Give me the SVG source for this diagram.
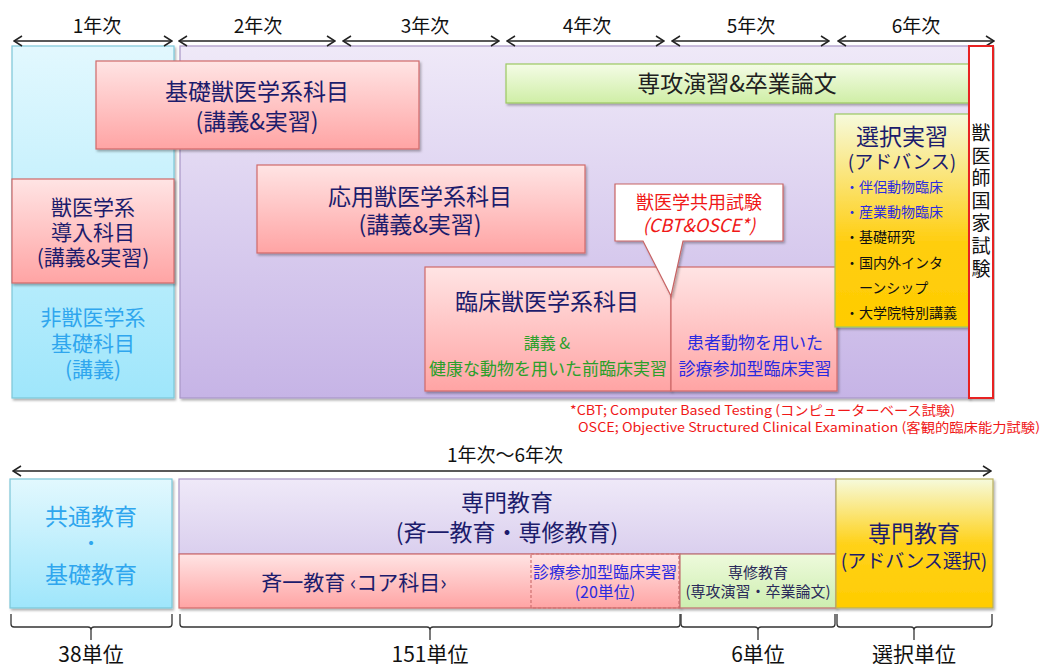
<svg xmlns="http://www.w3.org/2000/svg" width="1043" height="664" viewBox="0 0 1043 664">
<style>
text{font-family:"Noto Sans CJK JP","Noto Sans",sans-serif;}
.c{text-anchor:middle;}
.navy{fill:#1c1c6c;}
.blk{fill:#111;}
.blue{fill:#2a2ae0;}
.sky{fill:#2fa6ee;}
.grn{fill:#2aa02a;}
.red{fill:#f01818;}
.pink{fill:url(#gPink);stroke:#d06a6a;stroke-width:1.2;filter:url(#sh);}
.line{fill:none;stroke:#222;stroke-width:1.5;}
.brace{fill:none;stroke:#333;stroke-width:1.3;}
</style>
<defs>
<linearGradient id="gPink" x1="0" y1="0" x2="0" y2="1"><stop offset="0" stop-color="#ffe4e4"/><stop offset="1" stop-color="#ffa4a4"/></linearGradient>
<linearGradient id="gPurple" x1="0" y1="0" x2="0" y2="1"><stop offset="0" stop-color="#efe9f8"/><stop offset="1" stop-color="#c6b4e6"/></linearGradient>
<linearGradient id="gPurple2" x1="0" y1="0" x2="0" y2="1"><stop offset="0" stop-color="#efe9f8"/><stop offset="1" stop-color="#dacfee"/></linearGradient>
<linearGradient id="gCyan" x1="0" y1="0" x2="0" y2="1"><stop offset="0" stop-color="#e2f8fe"/><stop offset="1" stop-color="#9fe6fb"/></linearGradient>
<linearGradient id="gGreen" x1="0" y1="0" x2="0" y2="1"><stop offset="0" stop-color="#f4fce6"/><stop offset="1" stop-color="#cfeea6"/></linearGradient>
<linearGradient id="gGreen2" x1="0" y1="0" x2="0" y2="1"><stop offset="0" stop-color="#eefadc"/><stop offset="1" stop-color="#cdeeb0"/></linearGradient>
<linearGradient id="gGold" x1="0" y1="0" x2="0" y2="1"><stop offset="0" stop-color="#f6fadc"/><stop offset="0.6" stop-color="#ffce10"/><stop offset="1" stop-color="#ffcc00"/></linearGradient>
<linearGradient id="gGold2" x1="0" y1="0" x2="0" y2="1"><stop offset="0" stop-color="#f6fadc"/><stop offset="0.5" stop-color="#ffd21a"/><stop offset="1" stop-color="#ffcc00"/></linearGradient>
<filter id="sh" x="-5%" y="-5%" width="112%" height="120%"><feDropShadow dx="1.5" dy="2" stdDeviation="1.2" flood-color="#000" flood-opacity="0.3"/></filter>
<marker id="ah" viewBox="-1 -6 10 12" markerWidth="10" markerHeight="12" refX="8" refY="0" orient="auto-start-reverse" markerUnits="userSpaceOnUse"><path d="M0,-5 L8,0 L0,5" fill="none" stroke="#222" stroke-width="1.5"/></marker>
</defs>

<!-- backgrounds -->
<g id="col-year1"><rect x="12" y="46" width="162" height="352" fill="url(#gCyan)" stroke="#7cc6d8" stroke-width="1.2" filter="url(#sh)"/></g>
<g id="area-main"><rect x="180" y="46" width="789" height="352" fill="url(#gPurple)" stroke="#a896c6" stroke-width="1.2" filter="url(#sh)"/></g>

<!-- year labels -->
<g id="year-labels" class="blk" font-size="19">
<text class="c" x="97" y="33">1年次</text>
<text class="c" x="258" y="33">2年次</text>
<text class="c" x="425" y="33">3年次</text>
<text class="c" x="587" y="33">4年次</text>
<text class="c" x="751" y="33">5年次</text>
<text class="c" x="916" y="33">6年次</text>
</g>

<!-- connectors -->
<g id="connectors">
<line class="line" x1="14" y1="41" x2="172" y2="41" marker-start="url(#ah)" marker-end="url(#ah)"/>
<line class="line" x1="179" y1="41" x2="335" y2="41" marker-start="url(#ah)" marker-end="url(#ah)"/>
<line class="line" x1="343" y1="41" x2="499" y2="41" marker-start="url(#ah)" marker-end="url(#ah)"/>
<line class="line" x1="507" y1="41" x2="664" y2="41" marker-start="url(#ah)" marker-end="url(#ah)"/>
<line class="line" x1="672" y1="41" x2="829" y2="41" marker-start="url(#ah)" marker-end="url(#ah)"/>
<line class="line" x1="838" y1="41" x2="994" y2="41" marker-start="url(#ah)" marker-end="url(#ah)"/>
<line class="line" x1="13" y1="471" x2="991" y2="471" marker-start="url(#ah)" marker-end="url(#ah)"/>
<path class="brace" d="M11,614 V624 Q11,627 14,627 H88 Q91,627 91,630 V640 M91,630 Q91,627 94,627 H169 Q172,627 172,624 V614"/>
<path class="brace" d="M180,614 V624 Q180,627 183,627 H427 Q430,627 430,630 V640 M430,630 Q430,627 433,627 H677 Q680,627 680,624 V614"/>
<path class="brace" d="M681,614 V624 Q681,627 684,627 H755 Q758,627 758,630 V640 M758,630 Q758,627 761,627 H832 Q835,627 835,624 V614"/>
<path class="brace" d="M837,614 V624 Q837,627 840,627 H911 Q914,627 914,630 V640 M914,630 Q914,627 917,627 H989 Q992,627 992,624 V614"/>
</g>

<!-- top nodes -->
<g id="kiso-juui">
<rect class="pink" x="96" y="61" width="323" height="88"/>
<text class="c navy" x="257" y="100" font-size="23">基礎獣医学系科目</text>
<text class="c navy" x="257" y="130" font-size="23">(講義&amp;実習)</text>
</g>

<g id="senko">
<rect x="506" y="64" width="463" height="39" fill="url(#gGreen)" stroke="#9cc862" stroke-width="1.2" filter="url(#sh)"/>
<text class="c" fill="#202020" x="737" y="92" font-size="23">専攻演習&amp;卒業論文</text>
</g>

<g id="donyu">
<rect class="pink" x="12" y="179" width="162" height="104"/>
<text class="c navy" x="93" y="215" font-size="21">獣医学系</text>
<text class="c navy" x="93" y="240" font-size="21">導入科目</text>
<text class="c navy" x="93" y="265" font-size="21">(講義&amp;実習)</text>
</g>

<g id="hi-juui">
<text class="c sky" x="93" y="325" font-size="21">非獣医学系</text>
<text class="c sky" x="93" y="351" font-size="21">基礎科目</text>
<text class="c sky" x="93" y="377" font-size="21">(講義)</text>
</g>

<g id="oyo">
<rect class="pink" x="257" y="165" width="328" height="88"/>
<text class="c navy" x="420" y="205" font-size="23">応用獣医学系科目</text>
<text class="c navy" x="420" y="233" font-size="23">(講義&amp;実習)</text>
</g>

<g id="rinsho">
<rect class="pink" x="425" y="267" width="246" height="124"/>
<text class="c navy" x="547" y="310" font-size="23">臨床獣医学系科目</text>
<text class="c grn" x="547" y="349" font-size="16">講義 &amp;</text>
<text class="c grn" x="548" y="375" font-size="17">健康な動物を用いた前臨床実習</text>
</g>

<g id="rinsho-sanka">
<rect class="pink" x="671" y="267" width="166" height="124"/>
<text class="c blue" x="755" y="349" font-size="17">患者動物を用いた</text>
<text class="c blue" x="755" y="375" font-size="17">診療参加型臨床実習</text>
</g>

<g id="cbt-callout">
<path d="M615,184 H783 V241 H683 L671,296 L643,241 H615 Z" fill="#fff" stroke="#c86464" stroke-width="1.2" filter="url(#sh)"/>
<text class="c red" x="699" y="209" font-size="18">獣医学共用試験</text>
<text class="c red" x="699" y="232" font-size="18" font-style="italic">(CBT&amp;OSCE*)</text>
</g>

<g id="sentaku">
<rect x="835" y="114" width="134" height="213" fill="url(#gGold)" stroke="#9cc862" stroke-width="1.2" filter="url(#sh)"/>
<text class="c navy" x="902" y="145" font-size="23">選択実習</text>
<text class="c navy" x="902" y="169" font-size="19">(アドバンス)</text>
<g font-size="14">
<text class="blue" x="845" y="192">・</text><text class="blue" x="859" y="192">伴侶動物臨床</text>
<text class="blue" x="845" y="217">・</text><text class="blue" x="859" y="217">産業動物臨床</text>
<text class="blk" x="845" y="242">・</text><text class="blk" x="859" y="242">基礎研究</text>
<text class="blk" x="845" y="268">・</text><text class="blk" x="859" y="268">国内外インタ</text>
<text class="blk" x="859" y="293">ーンシップ</text>
<text class="blk" x="845" y="318">・</text><text class="blk" x="859" y="318">大学院特別講義</text>
</g>
</g>

<g id="kokka">
<rect x="969" y="46" width="24" height="352" fill="#fff" stroke="#e82020" stroke-width="2" filter="url(#sh)"/>
<text class="c blk" font-size="19" x="981" y="140">獣<tspan x="981" dy="22.6">医</tspan><tspan x="981" dy="22.6">師</tspan><tspan x="981" dy="22.6">国</tspan><tspan x="981" dy="22.6">家</tspan><tspan x="981" dy="22.6">試</tspan><tspan x="981" dy="22.6">験</tspan></text>
</g>

<g id="footnote" class="red" font-size="13">
<text x="570" y="415" textLength="385" lengthAdjust="spacingAndGlyphs">*CBT; Computer Based Testing (コンピューターベース試験)</text>
<text x="578" y="432" textLength="462" lengthAdjust="spacingAndGlyphs">OSCE; Objective Structured Clinical Examination (客観的臨床能力試験)</text>
</g>

<!-- bottom section -->
<text class="c blk" x="505" y="462" font-size="19">1年次〜6年次</text>

<g id="kyotsu">
<rect x="10" y="479" width="162" height="129" fill="url(#gCyan)" stroke="#7cc6d8" stroke-width="1.2" filter="url(#sh)"/>
<text class="c sky" x="91" y="525" font-size="23">共通教育</text>
<text class="c sky" x="91" y="551" font-size="19">・</text>
<text class="c sky" x="91" y="583" font-size="23">基礎教育</text>
</g>

<g id="senmon">
<rect x="179" y="479" width="657" height="75" fill="url(#gPurple2)" stroke="#a896c6" stroke-width="1.2" filter="url(#sh)"/>
<text class="c navy" x="507" y="511" font-size="23">専門教育</text>
<text class="c navy" x="507" y="541" font-size="23">(斉一教育・専修教育)</text>
</g>

<g id="seiitsu">
<rect class="pink" x="179" y="554" width="501" height="54"/>
<text class="c navy" x="354" y="590" font-size="21">斉一教育 ‹コア科目›</text>
</g>

<g id="sanka-20">
<rect x="531" y="554" width="148" height="54" fill="none" stroke="#d07070" stroke-width="1.2" stroke-dasharray="3,2"/>
<text class="c blue" x="605" y="578" font-size="16">診療参加型臨床実習</text>
<text class="c blue" x="605" y="598" font-size="16">(20単位)</text>
</g>

<g id="senshu">
<rect x="680" y="554" width="156" height="54" fill="url(#gGreen2)" stroke="#c07070" stroke-width="1.2" filter="url(#sh)"/>
<text class="c" fill="#2a2a5a" x="758" y="578" font-size="15">専修教育</text>
<text class="c" fill="#2a2a5a" x="758" y="597" font-size="15">(専攻演習・卒業論文)</text>
</g>

<g id="advance">
<rect x="836" y="479" width="157" height="129" fill="url(#gGold2)" stroke="#b8b060" stroke-width="1.2" filter="url(#sh)"/>
<text class="c navy" x="914" y="542" font-size="23">専門教育</text>
<text class="c navy" x="914" y="568" font-size="19">(アドバンス選択)</text>
</g>

<g id="units" class="blk" font-size="21">
<text class="c" x="91" y="662">38単位</text>
<text class="c" x="430" y="662">151単位</text>
<text class="c" x="758" y="662">6単位</text>
<text class="c" x="914" y="662">選択単位</text>
</g>
</svg>
